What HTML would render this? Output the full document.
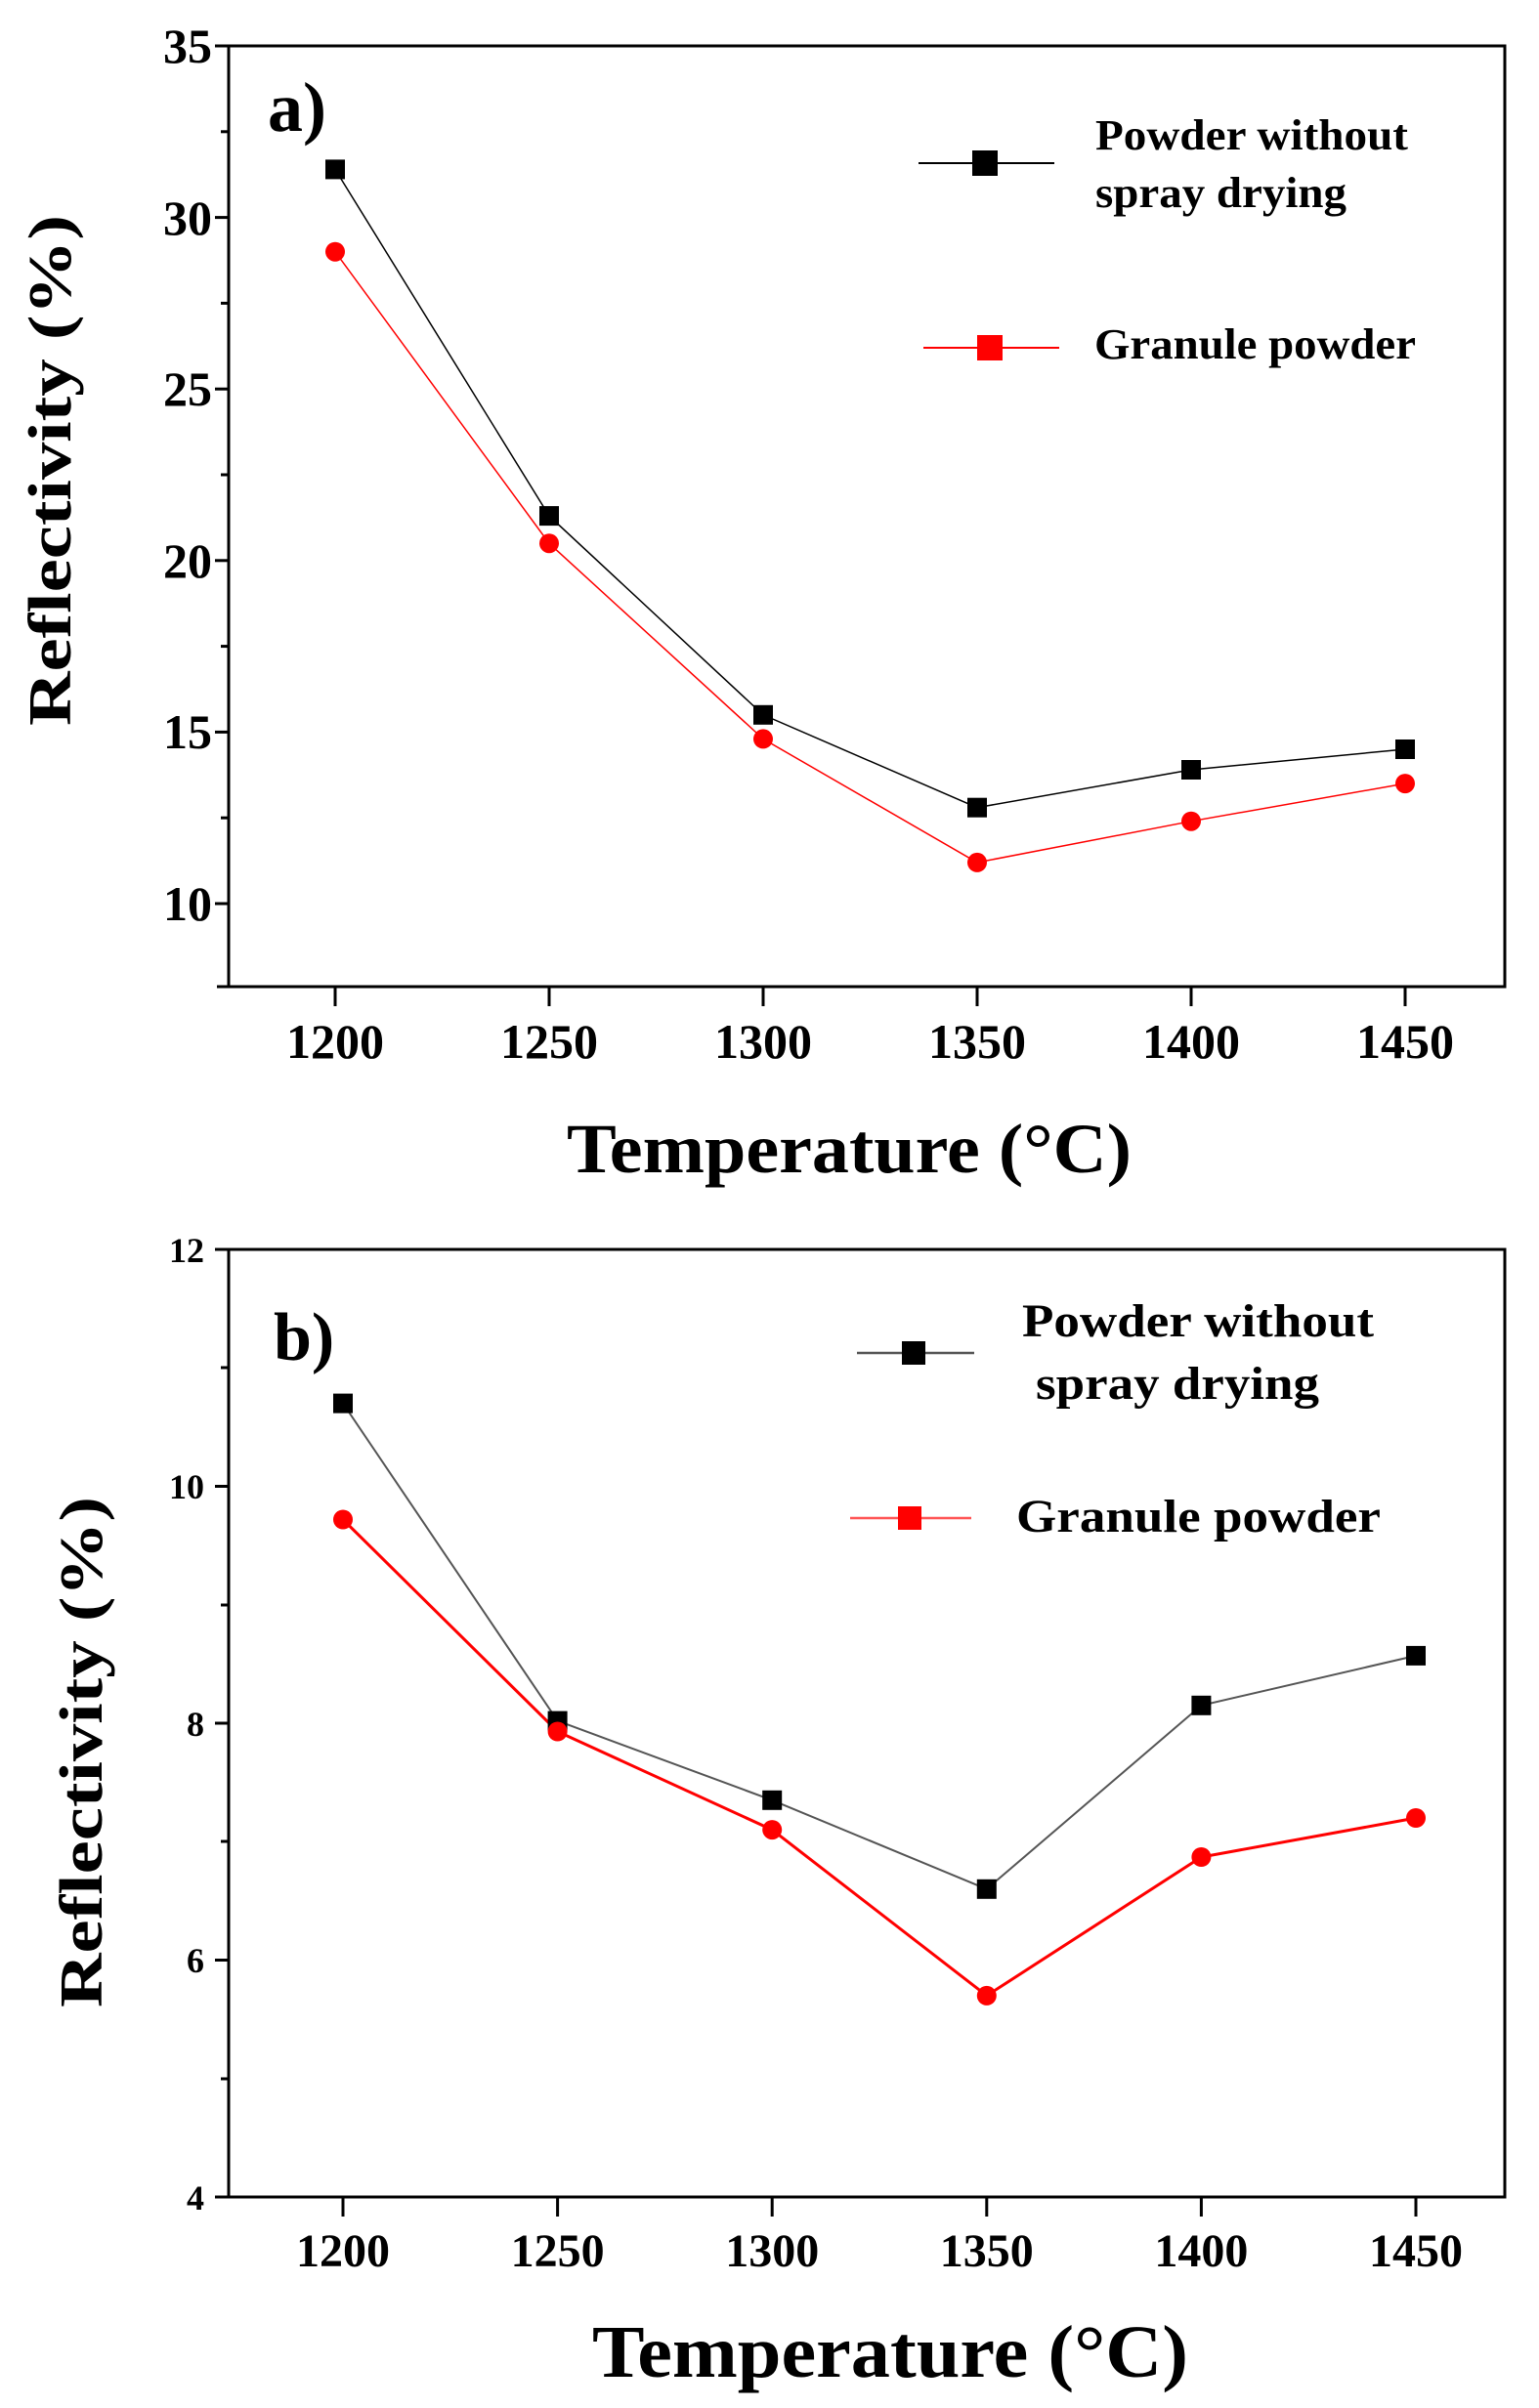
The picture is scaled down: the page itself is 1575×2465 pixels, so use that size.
<!DOCTYPE html>
<html><head><meta charset="utf-8"><style>html,body{margin:0;padding:0;background:#fff}svg{display:block}</style></head>
<body>
<svg width="1575" height="2465" viewBox="0 0 1575 2465" xmlns="http://www.w3.org/2000/svg" font-family="'Liberation Serif', serif" font-weight="bold">
<rect width="1575" height="2465" fill="#fff"/>
<!-- Panel a -->
<g>
<rect x="234" y="47" width="1306" height="963" fill="none" stroke="#000" stroke-width="3"/>
<line x1="222" y1="1010" x2="234" y2="1010" stroke="#000" stroke-width="3"/>
<g stroke="#000" stroke-width="3">
<line x1="343" y1="1010" x2="343" y2="1030"/><line x1="562" y1="1010" x2="562" y2="1030"/><line x1="781" y1="1010" x2="781" y2="1030"/><line x1="1000" y1="1010" x2="1000" y2="1030"/><line x1="1219" y1="1010" x2="1219" y2="1030"/><line x1="1438" y1="1010" x2="1438" y2="1030"/>
<line x1="220" y1="47" x2="234" y2="47"/><line x1="220" y1="222.6" x2="234" y2="222.6"/><line x1="220" y1="398.2" x2="234" y2="398.2"/><line x1="220" y1="573.8" x2="234" y2="573.8"/><line x1="220" y1="749.4" x2="234" y2="749.4"/><line x1="220" y1="925" x2="234" y2="925"/>
<line x1="226" y1="134.8" x2="234" y2="134.8"/><line x1="226" y1="310.4" x2="234" y2="310.4"/><line x1="226" y1="486" x2="234" y2="486"/><line x1="226" y1="661.6" x2="234" y2="661.6"/><line x1="226" y1="837.2" x2="234" y2="837.2"/>
</g>
<g font-size="50" text-anchor="end">
<text x="217" y="64">35</text><text x="217" y="240">30</text><text x="217" y="415">25</text><text x="217" y="591">20</text><text x="217" y="766">15</text><text x="217" y="942">10</text>
</g>
<g font-size="50" text-anchor="middle">
<text x="343" y="1083">1200</text><text x="562" y="1083">1250</text><text x="781" y="1083">1300</text><text x="1000" y="1083">1350</text><text x="1219" y="1083">1400</text><text x="1438" y="1083">1450</text>
</g>
<text x="580" y="1200" font-size="72" textLength="578" lengthAdjust="spacingAndGlyphs">Temperature (°C)</text>
<text transform="translate(72,743) rotate(-90)" font-size="62" textLength="523" lengthAdjust="spacingAndGlyphs">Reflectivity (%)</text>
<text x="274" y="134" font-size="72">a)</text>
<polyline points="343,173.4 562,528.1 781,731.8 1000,826.7 1219,788 1438,767" fill="none" stroke="#000" stroke-width="1.5"/>
<polyline points="343,257.7 562,556.2 781,756.4 1000,882.9 1219,840.7 1438,802.1" fill="none" stroke="#f00" stroke-width="1.5"/>
<g fill="#000">
<rect x="333" y="163.4" width="20" height="20"/><rect x="552" y="518.1" width="20" height="20"/><rect x="771" y="721.8" width="20" height="20"/><rect x="990" y="816.7" width="20" height="20"/><rect x="1209" y="778" width="20" height="20"/><rect x="1428" y="757" width="20" height="20"/>
</g>
<g fill="#f00">
<circle cx="343" cy="257.7" r="10"/><circle cx="562" cy="556.2" r="10"/><circle cx="781" cy="756.4" r="10"/><circle cx="1000" cy="882.9" r="10"/><circle cx="1219" cy="840.7" r="10"/><circle cx="1438" cy="802.1" r="10"/>
</g>
<line x1="940" y1="167" x2="1079" y2="167" stroke="#000" stroke-width="2"/>
<rect x="995" y="154" width="26" height="26" fill="#000"/>
<line x1="945" y1="356" x2="1084" y2="356" stroke="#f00" stroke-width="2"/>
<rect x="1000" y="343" width="26" height="26" fill="#f00"/>
<g font-size="44">
<text x="1121" y="153" textLength="320" lengthAdjust="spacingAndGlyphs">Powder without</text>
<text x="1121" y="212" textLength="257" lengthAdjust="spacingAndGlyphs">spray drying</text>
<text x="1120" y="367" textLength="329" lengthAdjust="spacingAndGlyphs">Granule powder</text>
</g>
</g>
<!-- Panel b -->
<g>
<rect x="234" y="1279" width="1306" height="970" fill="none" stroke="#000" stroke-width="3"/>
<line x1="222" y1="2249" x2="234" y2="2249" stroke="#000" stroke-width="3"/>
<g stroke="#000" stroke-width="3">
<line x1="351" y1="2249" x2="351" y2="2269"/><line x1="570.6" y1="2249" x2="570.6" y2="2269"/><line x1="790.2" y1="2249" x2="790.2" y2="2269"/><line x1="1009.8" y1="2249" x2="1009.8" y2="2269"/><line x1="1229.4" y1="2249" x2="1229.4" y2="2269"/><line x1="1449" y1="2249" x2="1449" y2="2269"/>
<line x1="220" y1="1279" x2="234" y2="1279"/><line x1="220" y1="1521.5" x2="234" y2="1521.5"/><line x1="220" y1="1764" x2="234" y2="1764"/><line x1="220" y1="2006.5" x2="234" y2="2006.5"/><line x1="220" y1="2249" x2="234" y2="2249"/>
<line x1="226" y1="1400" x2="234" y2="1400"/><line x1="226" y1="1643" x2="234" y2="1643"/><line x1="226" y1="1885" x2="234" y2="1885"/><line x1="226" y1="2128" x2="234" y2="2128"/>
</g>
<g font-size="36" text-anchor="end">
<text x="209" y="1292">12</text><text x="209" y="1534">10</text><text x="209" y="1777">8</text><text x="209" y="2019">6</text><text x="209" y="2262">4</text>
</g>
<g font-size="48" text-anchor="middle">
<text x="351" y="2320">1200</text><text x="570.6" y="2320">1250</text><text x="790.2" y="2320">1300</text><text x="1009.8" y="2320">1350</text><text x="1229.4" y="2320">1400</text><text x="1449" y="2320">1450</text>
</g>
<text x="606" y="2433" font-size="76" textLength="610" lengthAdjust="spacingAndGlyphs">Temperature (°C)</text>
<text transform="translate(104,2055) rotate(-90)" font-size="62" textLength="523" lengthAdjust="spacingAndGlyphs">Reflectivity (%)</text>
<text x="280" y="1392" font-size="70">b)</text>
<polyline points="351,1436.6 570.6,1761.6 790.2,1842.8 1009.8,1933.8 1229.4,1745.8 1449,1694.9" fill="none" stroke="#555" stroke-width="2"/>
<polyline points="351,1555.5 570.6,1772.5 790.2,1873.1 1009.8,2042.9 1229.4,1901 1449,1861" fill="none" stroke="#f00" stroke-width="3"/>
<g fill="#000">
<rect x="341" y="1426.6" width="20" height="20"/><rect x="560.6" y="1751.6" width="20" height="20"/><rect x="780.2" y="1832.8" width="20" height="20"/><rect x="999.8" y="1923.8" width="20" height="20"/><rect x="1219.4" y="1735.8" width="20" height="20"/><rect x="1439" y="1684.9" width="20" height="20"/>
</g>
<g fill="#f00">
<circle cx="351" cy="1555.5" r="10"/><circle cx="570.6" cy="1772.5" r="10"/><circle cx="790.2" cy="1873.1" r="10"/><circle cx="1009.8" cy="2042.9" r="10"/><circle cx="1229.4" cy="1901" r="10"/><circle cx="1449" cy="1861" r="10"/>
</g>
<line x1="877" y1="1385" x2="997" y2="1385" stroke="#555" stroke-width="2.5"/>
<rect x="923" y="1373" width="24" height="24" fill="#000"/>
<line x1="870" y1="1554" x2="994" y2="1554" stroke="#f55" stroke-width="2.5"/>
<rect x="919" y="1542" width="24" height="24" fill="#f00"/>
<g font-size="48">
<text x="1046" y="1368" textLength="360" lengthAdjust="spacingAndGlyphs">Powder without</text>
<text x="1060" y="1432" textLength="290" lengthAdjust="spacingAndGlyphs">spray drying</text>
<text x="1040" y="1568" textLength="373" lengthAdjust="spacingAndGlyphs">Granule powder</text>
</g>
</g>
</svg>
</body></html>
